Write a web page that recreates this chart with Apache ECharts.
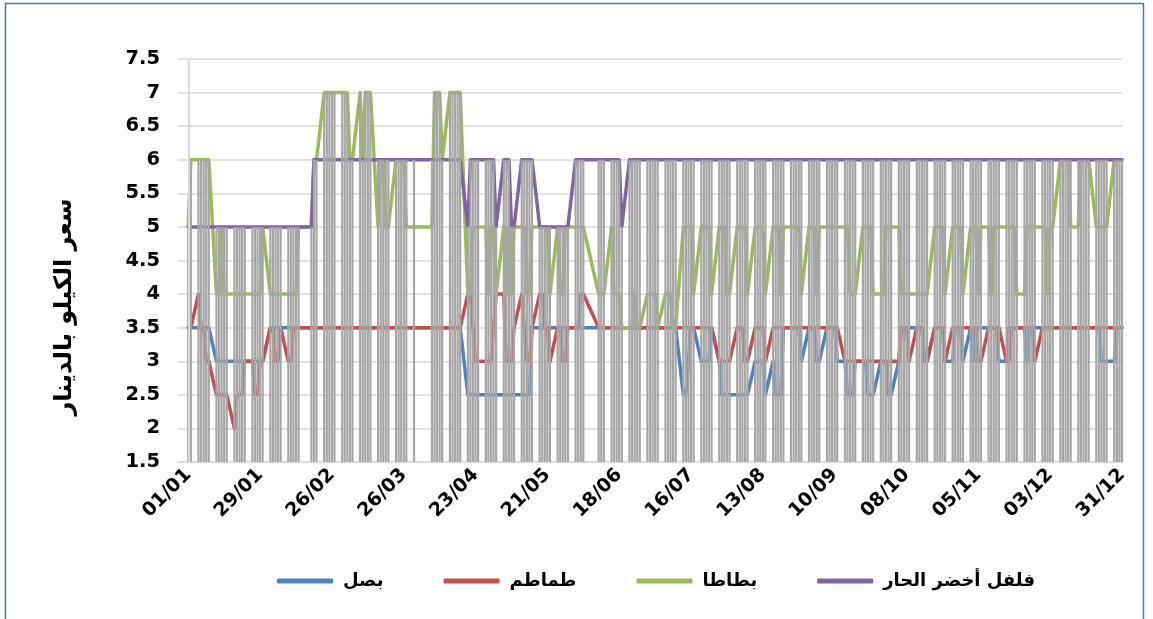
<!DOCTYPE html>
<html><head><meta charset="utf-8">
<script src="https://cdn.jsdelivr.net/npm/echarts@6/dist/echarts.min.js"></script>
<style>html,body{margin:0;padding:0;background:#fff}#c{width:1153px;height:619px}</style>
</head><body><div id="c"></div>
<script>
// ---------- data ----------
const seriesNames = ['بصل', 'طماطم', 'بطاطا', 'فلفل أخضر الحار'];
const axisTitle = 'سعر الكيلو بالدينار';
const tickDays = [0, 28, 56, 84, 112, 140, 168, 196, 224, 252, 280, 308, 336, 364];
const tickLabels = ['01/01','29/01','26/02','26/03','23/04','21/05','18/06','16/07','13/08','10/09','08/10','05/11','03/12','31/12'];
const weekendMods = [2, 3];               // day-of-year mod 7 with no market data
const holidayDays = [46, 47, 89, 90, 91, 92, 155, 158, 159];

// one sub-array per market week
const onion = [
 [3.5,3.5],
 [3.5,3.5,3.5,3.5,3.5],[3,3,3,3,3],[3,3,3,3,3],[3,3,3,3,3],
 [3.5,3.5,3.5,3.5,3.5],[3.5,3.5,3.5,3.5,3.5],[3.5,3.5,3.5],
 [3.5,3.5,3.5,3.5,3.5],[3.5,3.5,3.5,3.5,3.5],[3.5,3.5,3.5,3.5,3.5],[3.5,3.5,3.5,3.5,3.5],[3.5,3.5,3.5,3.5,3.5],
 [3.5],[3.5,3.5,3.5,3.5,3.5],[3.5,3.5,3.5,3.5,3.5],
 [2.5,2.5,2.5,2.5,2.5],[2.5,2.5,2.5,2.5,2.5],[2.5,2.5,2.5,2.5,2.5],[2.5,2.5,2.5,2.5,3.5],
 [3.5,3.5,3.5,3.5,3.5],[3.5,3.5,3.5,3.5,3.5],[3.5,3.5,3.5,3.5],[3.5,3.5,3.5],
 [3.5,3.5,3.5,3.5,3.5],[3.5,3.5,3.5,3.5,3.5],[3.5,3.5,3.5,3.5,3.5],[3.5,3.5,3.5,3.5,3.5],
 [2.5,2.5,3,3.5,3.5],[3,3,3,3,3.5],[3,2.5,2.5,2.5,2.5],[2.5,2.5,2.5,2.5,2.5],
 [3,3,3,3,2.5],[3,2.5,2.5,2.5,3.5],[3.5,3.5,3.5,3.5,3],[3.5,3.5,3.5,3,3],
 [3.5,3.5,3.5,3.5,3],[3,2.5,2.5,2.5,3],[3,3,2.5,2.5,2.5],[3,3,3,2.5,2.5],
 [3,3.5,3.5,3.5,3.5],[3.5,3.5,3.5,3,3],[3.5,3.5,3.5,3.5,3],[3,3.5,3.5,3.5,3],
 [3.5,3,3.5,3.5,3.5],[3.5,3.5,3.5,3.5,3],[3,3.5,3.5,3.5,3.5],[3.5,3,3.5,3.5,3.5],
 [3.5,3.5,3.5,3.5,3.5],[3.5,3.5,3.5,3.5,3.5],[3.5,3.5,3.5,3.5,3.5],[3.5,3.5,3,3,3],
 [3,3.5,3.5,3.5]
].flat();

const tomato = [
 [3.5,3.5],
 [4,3.5,3.5,3,3],[2.5,2.5,2.5,2.5,2.5],[2,2.5,2.5,2.5,3],[3,2.5,2.5,3,3],
 [3.5,3.5,3,3,3.5],[3,3,3.5,3.5,3.5],[3.5,3.5,3.5],
 [3.5,3.5,3.5,3.5,3.5],[3.5,3.5,3.5,3.5,3.5],[3.5,3.5,3.5,3.5,3.5],[3.5,3.5,3.5,3.5,3.5],[3.5,3.5,3.5,3.5,3.5],
 [3.5],[3.5,3.5,3.5,3.5,3.5],[3.5,3.5,3.5,3.5,3.5],
 [4,4,3.5,3,3],[3,3,3,3.5,4],[4,3,3,3,3.5],[4,3.5,3,3,3.5],
 [4,4,3.5,3.5,3],[3.5,3.5,3,3,3.5],[3.5,3.5,4,4],[3.5,3.5,3.5],
 [3.5,3.5,3.5,3.5,3.5],[3.5,3.5,3.5,3.5,3.5],[3.5,3.5,3.5,3.5,3.5],[3.5,3.5,3.5,3.5,3.5],
 [3.5,3.5,3.5,3.5,3.5],[3.5,3.5,3.5,3.5,3.5],[3,3,3,3,3],[3.5,3.5,3.5,3,3],
 [3.5,3.5,3.5,3.5,3],[3.5,3.5,3.5,3.5,3.5],[3.5,3.5,3.5,3.5,3.5],[3.5,3.5,3.5,3.5,3.5],
 [3.5,3.5,3.5,3.5,3.5],[3,3,3,3,3],[3,3,3,3,3],[3,3,3,3,3],
 [3,3.5,3.5,3.5,3],[3.5,3.5,3.5,3,3],[3.5,3.5,3.5,3.5,3],[3.5,3.5,3.5,3.5,3.5],
 [3.5,3.5,3.5,3,3],[3.5,3.5,3.5,3.5,3.5],[3,3,3.5,3.5,3.5],[3.5,3.5,3.5,3.5,3],
 [3.5,3.5,3.5,3.5,3.5],[3.5,3.5,3.5,3.5,3.5],[3.5,3.5,3.5,3.5,3.5],[3.5,3.5,3.5,3.5,3.5],
 [3.5,3.5,3.5,3.5]
].flat();

const potato = [
 [5,6],
 [6,6,6,6,6],[4,4,5,4,4],[4,4,4,4,4],[4,4,4,4,5],
 [4,4,4,4,4],[4,4,4,4,5],[5,6,6],
 [7,7,7,7,7],[7,7,7,6,6],[7,6,7,7,7],[5,6,6,5,5],[6,6,6,6,5],
 [5],[5,7,7,7,6],[7,7,7,7,7],
 [4,4,5,5,5],[5,4,5,5,4],[5,4,5,4,5],[5,5,4,4,5],
 [5,5,5,5,4],[5,4,4,5,5],[5,5,5,5],[4,4,4],
 [5,4,4,4,3.5],[3.5,3.5,4,3.5,3.5],[4,4,4,4,3.5],[4,4,4,3.5,3.5],
 [5,5,5,5,4],[5,5,5,5,4],[5,5,5,4,4],[5,5,5,5,4],
 [5,5,5,5,4],[5,5,5,4,5],[5,5,5,5,4],[5,5,5,4,5],
 [5,5,5,5,5],[5,5,4,4,4],[5,5,5,5,4],[4,4,5,5,5],
 [5,4,4,4,4],[4,4,4,4,4],[5,5,5,5,4],[5,5,5,5,4],
 [5,5,5,4,5],[5,4,5,5,5],[5,5,5,5,4],[4,5,5,5,5],
 [5,5,4,5,5],[6,6,6,6,5],[5,6,6,6,6],[5,5,5,5,5],
 [6,6,6,6]
].flat();

const pepper = [
 [5,5],
 [5,5,5,5,5],[5,5,5,5,5],[5,5,5,5,5],[5,5,5,5,5],
 [5,5,5,5,5],[5,5,5,5,5],[5,6,6],
 [6,6,6,6,6],[6,6,6,6,6],[6,6,6,6,6],[6,6,6,6,6],[6,6,6,6,6],
 [6],[6,6,6,6,6],[6,6,6,6,6],
 [5,6,6,6,6],[6,6,6,6,5],[6,6,6,5,5],[6,6,6,6,6],
 [5,5,5,5,5],[5,5,5,5,5],[6,6,6,6],[6,6,6],
 [6,6,6,6,5],[6,6,6,6,6],[6,6,6,6,6],[6,6,6,6,6],
 [6,6,6,6,6],[6,6,6,6,6],[6,6,6,6,6],[6,6,6,6,6],
 [6,6,6,6,6],[6,6,6,6,6],[6,6,6,6,6],[6,6,6,6,6],
 [6,6,6,6,6],[6,6,6,6,6],[6,6,6,6,6],[6,6,6,6,6],
 [6,6,6,6,6],[6,6,6,6,6],[6,6,6,6,6],[6,6,6,6,6],
 [6,6,6,6,6],[6,6,6,6,6],[6,6,6,6,6],[6,6,6,6,6],
 [6,6,6,6,6],[6,6,6,6,6],[6,6,6,6,6],[6,6,6,6,6],
 [6,6,6,6]
].flat();

// ---------- chart ----------
const days = [];
for (let d = 0; d <= 364; d++) {
  if (weekendMods.includes(d % 7) || holidayDays.includes(d)) continue;
  days.push(d);
}
const values = [onion, tomato, potato, pepper];
values.forEach((v, k) => { if (v.length !== days.length) console.warn('length mismatch', k, v.length, days.length); });
const colors = ['#4f81bd', '#c0504d', '#9bbb59', '#8064a2'];
const yMin = 1.5, yMax = 7.5;
const dropData = days.map((d, i) => [d, Math.max(onion[i], tomato[i], potato[i], pepper[i])]);
const FONT = 'DejaVu Sans';

const chart = echarts.init(document.getElementById('c'), null, { renderer: 'canvas' });
chart.setOption({
  animation: false,
  backgroundColor: '#ffffff',
  grid: { left: 178, right: 31, top: 59, bottom: 157, containLabel: false },
  xAxis: {
    type: 'value', min: -4, max: 364,
    splitLine: { show: false },
    axisLine: { show: true, onZero: false, lineStyle: { color: '#d9d9d9', width: 1.5 } },
    axisTick: { show: false },
    axisLabel: {
      customValues: tickDays, rotate: 45, margin: 10,
      formatter: v => { const i = tickDays.indexOf(Math.round(v)); return i >= 0 ? tickLabels[i] : ''; },
      fontFamily: FONT, fontWeight: 'bold', fontSize: 19, color: '#000'
    }
  },
  yAxis: {
    type: 'value', min: yMin, max: yMax, interval: 0.5,
    axisLine: { show: false }, axisTick: { show: false },
    splitLine: { lineStyle: { color: '#d9d9d9', width: 1.5 } },
    axisLabel: { margin: 18, fontFamily: FONT, fontWeight: 'bold', fontSize: 19.5, color: '#000' }
  },
  legend: {
    data: seriesNames, left: 272, top: 567, itemWidth: 56, itemHeight: 5, itemGap: 60,
    icon: 'roundRect',
    textStyle: { fontFamily: FONT, fontWeight: 'bold', fontSize: 18, color: '#000', padding: [0, 0, 0, 5] }
  },
  graphic: [
    { type: 'rect', silent: true, shape: { x: 5.5, y: 3.5, width: 1138, height: 700 },
      style: { fill: 'none', stroke: '#4a78ad', lineWidth: 1.5 } },
    { type: 'text', silent: true, x: 65, y: 307, rotation: Math.PI / 2,
      style: { text: axisTitle, font: 'bold 24px "DejaVu Sans"', fill: '#000', align: 'center', verticalAlign: 'middle' } }
  ],
  series: [
    ...values.map((v, k) => ({
      name: seriesNames[k], type: 'line', data: days.map((d, i) => [d, v[i]]),
      showSymbol: false, symbol: 'none', z: 2,
      lineStyle: { width: 3.5, color: colors[k], cap: 'round', join: 'round' },
      itemStyle: { color: colors[k] },
      markLine: k === 0 ? { silent: true, symbol: 'none', label: { show: false },
        lineStyle: { color: '#d9d9d9', width: 2, type: 'solid' }, data: [{ xAxis: 0 }] } : undefined
    })),
    {
      name: 'drop', type: 'custom', z: 3, silent: true, data: dropData,
      encode: { x: 0, y: 1 },
      renderItem: (params, api) => {
        const x = api.value(0);
        const top = api.coord([x, api.value(1)]);
        const bot = api.coord([x, yMin]);
        return { type: 'line', shape: { x1: top[0], y1: top[1], x2: bot[0], y2: bot[1] },
                 style: { stroke: '#a6a6a6', lineWidth: 2.2 } };
      }
    }
  ]
});
</script>
</body></html>
